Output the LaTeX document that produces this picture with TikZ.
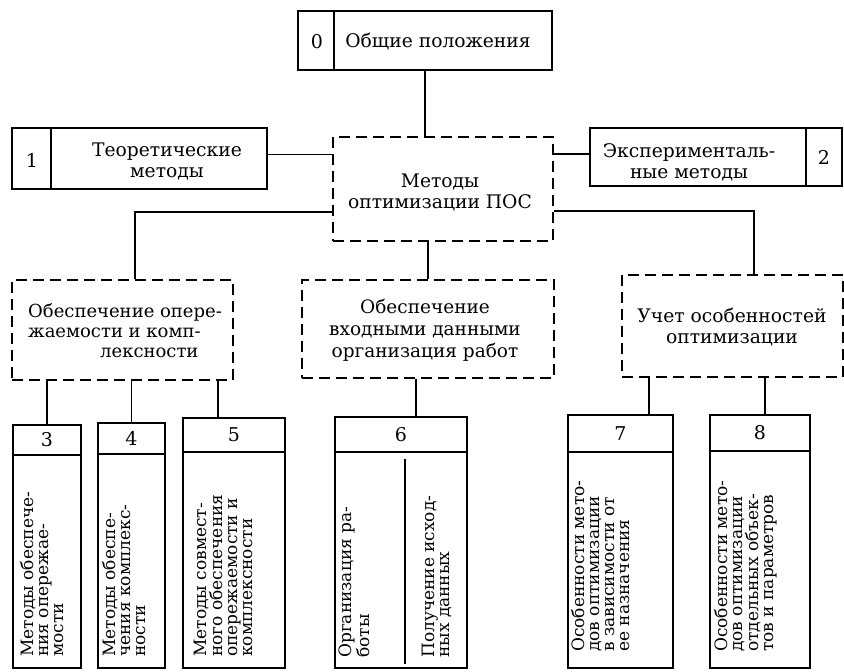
\documentclass[tikz,border=0pt]{standalone}
\usepackage{fontspec}
\setmainfont{DejaVu Serif}
\begin{document}
\begin{tikzpicture}[x=1pt,y=-1pt,
  sbox/.style={draw, line width=1.8pt, inner sep=0pt},
  dbox/.style={draw, line width=1.9pt, dash pattern=on 11pt off 6pt, inner sep=0pt},
  conn/.style={line width=1.6pt},
  thinl/.style={line width=1.6pt},
  lbl/.style={font=\fontsize{18.7}{21}\selectfont, align=center, inner sep=0pt},
  num/.style={font=\fontsize{19}{21}\selectfont, inner sep=0pt},
  vtxt/.style={rotate=90, anchor=north west, align=left, inner sep=0pt, font=\fontsize{17}{15}\selectfont}
]
\useasboundingbox (0,0) rectangle (844,672);

% top box 0
\node[sbox, minimum width=254pt, minimum height=59pt] (b0) at (425,40.5) {};
\draw[thinl] ([xshift=37pt]b0.north west) -- ([xshift=37pt]b0.south west);
\node[num] (n0) at (317,42) {0};
\node[lbl] (t0) at (438,42) {Общие положения};

% central box
\node[dbox, minimum width=220pt, minimum height=104pt] (c) at (443,189) {};
\node[lbl] (tc) at (440,192) {Методы\\оптимизации ПОС};
\draw[conn] (b0.south) -- (b0.south |- c.north);

% box 1
\node[sbox, minimum width=255pt, minimum height=61pt] (b1) at (139.5,158.5) {};
\draw[thinl] ([xshift=40pt]b1.north west) -- ([xshift=40pt]b1.south west);
\node[num] (n1) at (32,160) {1};
\node[lbl] (t1) at (167,161) {Теоретические\\методы};
\draw[conn] ([yshift=4pt]b1.east) -- ([yshift=4pt]b1.east -| c.west);

% box 2
\node[sbox, minimum width=252pt, minimum height=58pt] (b2) at (716,157) {};
\draw[thinl] ([xshift=-37pt]b2.north east) -- ([xshift=-37pt]b2.south east);
\node[num] (n2) at (824,157) {2};
\node[lbl] (t2) at (689,162) {Эксперименталь-\\ные методы};
\draw[conn] ([yshift=3pt]b2.west) -- ([yshift=3pt]b2.west -| c.east);

% second level
\node[dbox, minimum width=221pt, minimum height=100pt] (A) at (122.5,330) {};
\node[lbl, align=left, anchor=west, font=\fontsize{18}{20}\selectfont] (tA) at (28,331) {Обеспечение опере-\\жаемости и комп-\\\hspace*{72pt}лексности};
\draw[conn] ([yshift=-23pt]c.west) -| ([xshift=12.5pt]A.north);

\node[dbox, minimum width=252pt, minimum height=98pt] (B) at (428,329) {};
\node[lbl, font=\fontsize{18.5}{22}\selectfont] (tB) at (425,330) {Обеспечение\\входными данными\\организация работ};
\draw[conn] (B.north |- c.south) -- (B.north);

\node[dbox, minimum width=221pt, minimum height=102pt] (C) at (732.5,326) {};
\node[lbl] (tC) at (732,327) {Учет особенностей\\оптимизации};
\draw[conn] ([yshift=-22pt]c.east) -| ([xshift=21.5pt]C.north);

% bottom boxes
\node[sbox, minimum width=68pt, minimum height=243pt] (b3) at (47,546.5) {};
\draw[thinl] ([yshift=-31pt]b3.north west) -- ([yshift=-31pt]b3.north east);
\node[num] (n3) at ([yshift=-15.5pt]b3.north) {3};
\node[vtxt] (v3) at (20,657) {Методы обеспече-\\ния опережае-\\мости};
\coordinate (k3) at (b3.north);
\draw[conn] (k3 |- A.south) -- (k3);

\node[sbox, minimum width=67pt, minimum height=245pt] (b4) at (131.5,545.5) {};
\draw[thinl] ([yshift=-32pt]b4.north west) -- ([yshift=-32pt]b4.north east);
\node[num] (n4) at ([yshift=-16pt]b4.north) {4};
\node[vtxt] (v4) at (102.5,657) {Методы обеспе-\\чения комплекс-\\ности};
\coordinate (k4) at (b4.north);
\draw[conn] (k4 |- A.south) -- (k4);

\node[sbox, minimum width=102pt, minimum height=250pt] (b5) at (234,543) {};
\draw[thinl] ([yshift=-35pt]b5.north west) -- ([yshift=-35pt]b5.north east);
\node[num] (n5) at ([yshift=-17.5pt]b5.north) {5};
\node[vtxt] (v5) at (193.7,657) {Методы совмест-\\ного обеспечения\\опережаемости и\\комплексности};
\coordinate (k5) at ([xshift=-16pt]b5.north);
\draw[conn] (k5 |- A.south) -- (k5);

\node[sbox, minimum width=132pt, minimum height=251pt] (b6) at (401,542.5) {};
\draw[thinl] ([yshift=-36pt]b6.north west) -- ([yshift=-36pt]b6.north east);
\node[num] (n6) at ([yshift=-18pt]b6.north) {6};
\draw[thinl] ([xshift=4pt,yshift=-43pt]b6.north) -- ([xshift=4pt,yshift=5pt]b6.south);
\node[vtxt] (v6a) at (338.7,658) {Организация ра-\\боты};
\node[vtxt] (v6b) at (421.7,658) {Получение исход-\\ных данных};
\coordinate (k6) at ([xshift=15pt]b6.north);
\draw[conn] (k6 |- B.south) -- (k6);

\node[sbox, minimum width=105pt, minimum height=253pt] (b7) at (620.5,541.5) {};
\draw[thinl] ([yshift=-38pt]b7.north west) -- ([yshift=-38pt]b7.north east);
\node[num] (n7) at ([yshift=-19pt]b7.north) {7};
\node[vtxt] (v7) at (570.7,652) {Особенности мето-\\дов оптимизации\\в зависимости от\\ее назначения};
\coordinate (k7) at ([xshift=28.5pt]b7.north);
\draw[conn] (k7 |- C.south) -- (k7);

\node[sbox, minimum width=100pt, minimum height=253pt] (b8) at (760,541.5) {};
\draw[thinl] ([yshift=-37pt]b8.north west) -- ([yshift=-37pt]b8.north east);
\node[num] (n8) at ([yshift=-18.5pt]b8.north) {8};
\node[vtxt] (v8) at (713.7,652) {Особенности мето-\\дов оптимизации\\отдельных объек-\\тов и параметров};
\coordinate (k8) at ([xshift=5pt]b8.north);
\draw[conn] (k8 |- C.south) -- (k8);
\end{tikzpicture}
\end{document}
